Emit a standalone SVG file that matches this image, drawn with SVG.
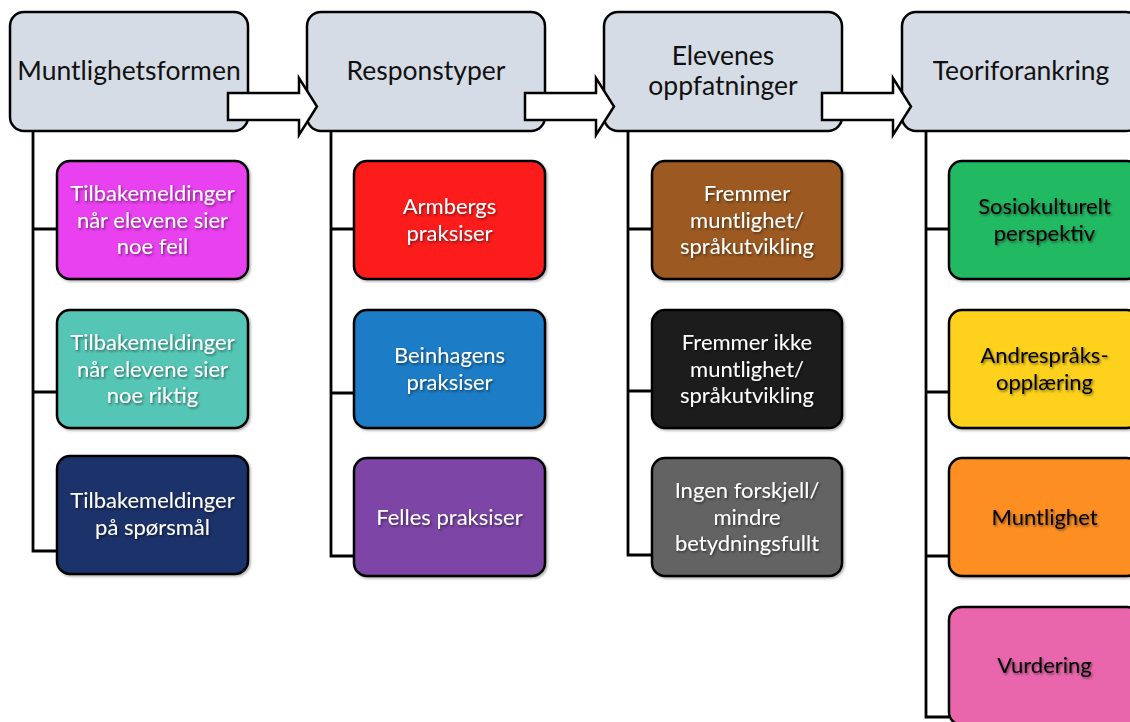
<svg xmlns="http://www.w3.org/2000/svg" width="1130" height="722" viewBox="0 0 1130 722">
<defs>
<filter id="ts" x="-10%" y="-30%" width="130%" height="170%">
<feDropShadow dx="1.2" dy="1.5" stdDeviation="1" flood-color="#000" flood-opacity="0.5"/>
</filter>
<filter id="bs" x="-10%" y="-10%" width="125%" height="125%">
<feDropShadow dx="1.5" dy="1.5" stdDeviation="1.2" flood-color="#000" flood-opacity="0.3"/>
</filter>
</defs>
<style>
.hdr{fill:#d6dce5;stroke:#000;stroke-width:2.5}
.box{stroke:#000;stroke-width:2.5;filter:url(#bs)}
.ht{font-family:Lato,"Liberation Sans",sans-serif;font-size:26.5px;fill:#111;text-anchor:middle}
.ct{font-family:Lato,"Liberation Sans",sans-serif;font-size:22px;text-anchor:middle;filter:url(#ts)}
.w{fill:#fff}
.k{fill:#000}
.con{fill:none;stroke:#000;stroke-width:2.8}
.arr{fill:#fff;stroke:#000;stroke-width:2.5;stroke-linejoin:miter}
</style>
<rect width="1130" height="722" fill="#fff"/>

<g id="connectors">
<path class="con" d="M33,131 V551 H57 M33,229 H57 M33,392 H57"/>
<path class="con" d="M331,131 V556 H354 M331,229 H354 M331,393 H354"/>
<path class="con" d="M628,131 V555 H652 M628,229 H652 M628,391 H652"/>
<path class="con" d="M926,131 V717 H949 M926,229 H949 M926,392 H949 M926,556 H949"/>
</g>

<g id="h1"><rect class="hdr" x="10" y="12" width="238" height="119" rx="14"/><text class="ht" x="129" y="80">Muntlighetsformen</text></g>
<g id="h2"><rect class="hdr" x="307" y="12" width="238" height="119" rx="14"/><text class="ht" x="426" y="80">Responstyper</text></g>
<g id="h3"><rect class="hdr" x="604" y="12" width="238" height="119" rx="14"/><text class="ht" x="723" y="65">Elevenes</text><text class="ht" x="723" y="95">oppfatninger</text></g>
<g id="h4"><rect class="hdr" x="902" y="12" width="238" height="119" rx="14"/><text class="ht" x="1021" y="80">Teoriforankring</text></g>

<g id="arrows">
<path class="arr" d="M228,93 H299 V78 L317,106.5 L299,135 V120 H228 Z"/>
<path class="arr" d="M525,93 H596 V78 L614,106.5 L596,135 V120 H525 Z"/>
<path class="arr" d="M822,93 H893 V78 L911,106.5 L893,135 V120 H822 Z"/>
</g>

<g id="c1a"><rect class="box" x="57" y="161" width="191" height="118" rx="13" fill="#e941f0"/><text class="ct w" x="152.5"><tspan x="152.5" y="201">Tilbakemeldinger</tspan><tspan x="152.5" y="227.5">når elevene sier</tspan><tspan x="152.5" y="254">noe feil</tspan></text></g>
<g id="c1b"><rect class="box" x="57" y="310" width="191" height="118" rx="13" fill="#55c6b5"/><text class="ct w" x="152.5"><tspan x="152.5" y="350">Tilbakemeldinger</tspan><tspan x="152.5" y="376.5">når elevene sier</tspan><tspan x="152.5" y="403">noe riktig</tspan></text></g>
<g id="c1c"><rect class="box" x="57" y="456" width="191" height="118" rx="13" fill="#1d336b"/><text class="ct w" x="152.5"><tspan x="152.5" y="508">Tilbakemeldinger</tspan><tspan x="152.5" y="534.5">på spørsmål</tspan></text></g>

<g id="c2a"><rect class="box" x="354" y="161" width="191" height="118" rx="13" fill="#fd1b1e"/><text class="ct w" x="449.5"><tspan x="449.5" y="214">Armbergs</tspan><tspan x="449.5" y="240.5">praksiser</tspan></text></g>
<g id="c2b"><rect class="box" x="354" y="310" width="191" height="118" rx="13" fill="#1b7bc6"/><text class="ct w" x="449.5"><tspan x="449.5" y="363">Beinhagens</tspan><tspan x="449.5" y="389.5">praksiser</tspan></text></g>
<g id="c2c"><rect class="box" x="354" y="458" width="191" height="118" rx="13" fill="#7c44a6"/><text class="ct w" x="449.5" y="525">Felles praksiser</text></g>

<g id="c3a"><rect class="box" x="652" y="161" width="190" height="118" rx="13" fill="#9c5a20"/><text class="ct w" x="747"><tspan x="747" y="201">Fremmer</tspan><tspan x="747" y="227.5">muntlighet/</tspan><tspan x="747" y="254">språkutvikling</tspan></text></g>
<g id="c3b"><rect class="box" x="652" y="310" width="190" height="118" rx="13" fill="#1c1c1c"/><text class="ct w" x="747"><tspan x="747" y="350">Fremmer ikke</tspan><tspan x="747" y="376.5">muntlighet/</tspan><tspan x="747" y="403">språkutvikling</tspan></text></g>
<g id="c3c"><rect class="box" x="652" y="458" width="190" height="118" rx="13" fill="#646464"/><text class="ct w" x="747"><tspan x="747" y="498">Ingen forskjell/</tspan><tspan x="747" y="524.5">mindre</tspan><tspan x="747" y="551">betydningsfullt</tspan></text></g>

<g id="c4a"><rect class="box" x="949" y="161" width="191" height="118" rx="13" fill="#20b964"/><text class="ct k" x="1044.5"><tspan x="1044.5" y="214">Sosiokulturelt</tspan><tspan x="1044.5" y="240.5">perspektiv</tspan></text></g>
<g id="c4b"><rect class="box" x="949" y="310" width="191" height="118" rx="13" fill="#fdd11b"/><text class="ct k" x="1044.5"><tspan x="1044.5" y="363">Andrespråks-</tspan><tspan x="1044.5" y="389.5">opplæring</tspan></text></g>
<g id="c4c"><rect class="box" x="949" y="458" width="191" height="118" rx="13" fill="#fd8e21"/><text class="ct k" x="1044.5" y="525">Muntlighet</text></g>
<g id="c4d"><rect class="box" x="949" y="607" width="191" height="118" rx="13" fill="#e966ac"/><text class="ct k" x="1044.5" y="673">Vurdering</text></g>
</svg>
